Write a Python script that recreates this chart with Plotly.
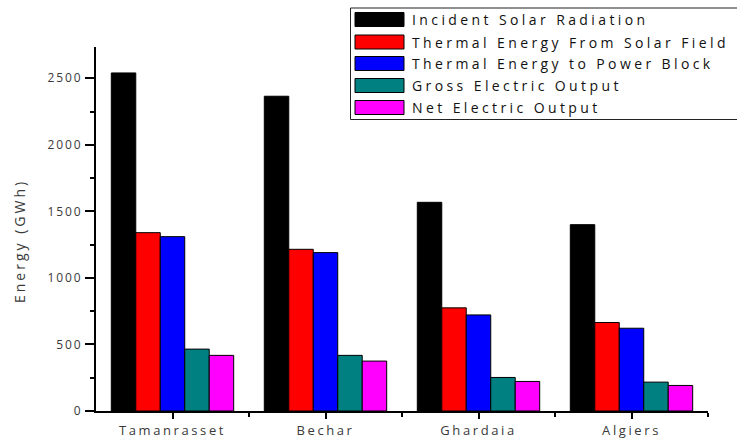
import plotly.graph_objects as go

# Sites and energy flows (GWh)
sites = ["Tamanrasset", "Bechar", "Ghardaia", "Algiers"]
series_names = [
    "Incident Solar Radiation",
    "Thermal Energy From Solar Field",
    "Thermal Energy to Power Block",
    "Gross Electric Output",
    "Net Electric Output",
]
incident_solar = [2540, 2365, 1568, 1400]
thermal_from_field = [1340, 1215, 775, 665]
thermal_to_block = [1310, 1190, 722, 622]
gross_electric = [465, 418, 252, 217]
net_electric = [418, 375, 222, 192]
y_tick_values = [0, 500, 1000, 1500, 2000, 2500]
y_title = "Energy (GWh)"

series_values = [incident_solar, thermal_from_field, thermal_to_block,
                 gross_electric, net_electric]
colors = ["#000000", "#FF0000", "#0000FF", "#008080", "#FF00FF"]

W, H = 737, 439
ML, MR, MT, MB = 96, 29, 47, 28
PW, PH = W - ML - MR, H - MT - MB
TEXT = "#3a3a3a"
FONT = "Open Sans"


def spaced(s, px):
    return f'<span style="letter-spacing:{px}px">{s}</span>'


def xp(px):
    return (px - ML) / PW


def yp(py):
    return (H - MB - py) / PH


x_idx = list(range(len(sites)))

fig = go.Figure()
for name, vals, col in zip(series_names, series_values, colors):
    fig.add_trace(go.Bar(
        x=x_idx, y=vals, name=name,
        marker=dict(color=col, line=dict(color="#000000", width=1)),
        showlegend=False,
    ))

# Boxed legend with wide swatches
row_centers = [19.5, 42, 63.5, 85.5, 107.5]
shapes = [dict(type="rect", xref="paper", yref="paper",
               x0=xp(350.5), x1=xp(745), y0=yp(119.5), y1=yp(8),
               line=dict(color="#222222", width=1), fillcolor="white", layer="above")]
annotations = []
for name, col, cy in zip(series_names, colors, row_centers):
    shapes.append(dict(type="rect", xref="paper", yref="paper",
                       x0=xp(355), x1=xp(404), y0=yp(cy + 7), y1=yp(cy - 7),
                       line=dict(color="#000000", width=1), fillcolor=col, layer="above"))
    annotations.append(dict(xref="paper", yref="paper", x=xp(410), y=yp(cy),
                            xanchor="left", yanchor="middle", showarrow=False,
                            text=spaced(name, 3.4),
                            font=dict(family=FONT, size=14, color="#111111")))

# Y-axis title
annotations.append(dict(xref="paper", yref="paper", x=xp(19), y=yp(241),
                        xanchor="center", yanchor="middle", showarrow=False,
                        textangle=-90, text=spaced(y_title, 3),
                        font=dict(family=FONT, size=14, color=TEXT)))

fig.update_layout(
    width=W, height=H,
    margin=dict(l=ML, r=MR, t=MT, b=MB, autoexpand=False),
    paper_bgcolor="white", plot_bgcolor="white",
    barmode="group", bargap=0.2, bargroupgap=0,
    font=dict(family=FONT, size=12, color=TEXT),
    shapes=shapes, annotations=annotations,
)
fig.update_xaxes(
    range=[-0.5, len(sites) - 0.5],
    tickmode="array", tickvals=x_idx,
    ticktext=[spaced(s, 2.6) for s in sites],
    tickfont=dict(family=FONT, size=13, color=TEXT),
    showline=True, linecolor="black", linewidth=2,
    ticks="outside", ticklen=6, tickwidth=1.5, tickcolor="black",
    minor=dict(tickmode="array", tickvals=[0.5, 1.5, 2.5, 3.5],
               ticks="outside", ticklen=4, tickwidth=1.5, tickcolor="black"),
    showgrid=False, zeroline=False, fixedrange=True,
)
fig.update_yaxes(
    range=[0, 2735],
    tickmode="array", tickvals=y_tick_values,
    ticktext=[spaced(str(v), 1.9) for v in y_tick_values],
    tickfont=dict(family=FONT, size=12, color=TEXT),
    showline=True, linecolor="black", linewidth=2,
    ticks="outside", ticklen=9, tickwidth=1.5, tickcolor="black",
    minor=dict(dtick=250, ticks="outside", ticklen=4, tickwidth=1.5, tickcolor="black"),
    showgrid=False, zeroline=False, fixedrange=True,
)

fig.write_html("out.html")
